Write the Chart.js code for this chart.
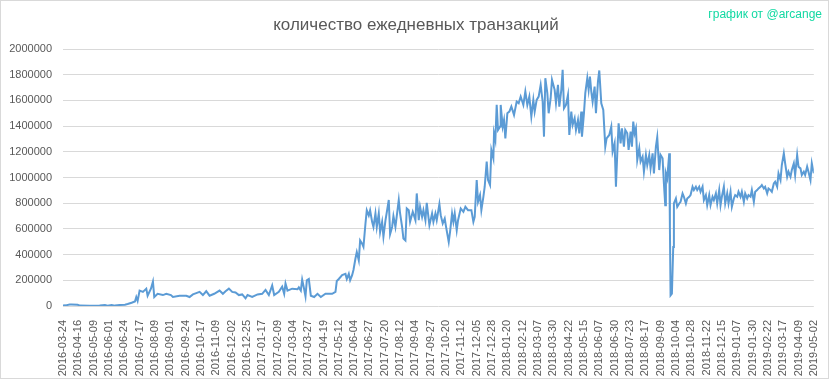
<!DOCTYPE html>
<html>
<head>
<meta charset="utf-8">
<script src="https://cdn.jsdelivr.net/npm/chart.js@4"></script>
<style>
  body { margin: 0; background: #fff; }
  #frame { position: absolute; left: 0; top: 0; width: 829px; height: 379px; border: 1px solid #d9d9d9; box-sizing: border-box; }
  #tx-chart { position: absolute; left: 0; top: 0; }
</style>
</head>
<body>
<div id="frame"></div>
<canvas id="tx-chart" width="833" height="379"></canvas>
<script>
// x-axis labels, one every 23 rows of the source table
const tickLabels = ['2016-03-24', '2016-04-16', '2016-05-09', '2016-06-01', '2016-06-24', '2016-07-17',
    '2016-08-09', '2016-09-01', '2016-09-24', '2016-10-17', '2016-11-09', '2016-12-02', '2016-12-25',
    '2017-01-17', '2017-02-09', '2017-03-04', '2017-03-27', '2017-04-19', '2017-05-12', '2017-06-04',
    '2017-06-27', '2017-07-20', '2017-08-12', '2017-09-04', '2017-09-27', '2017-10-20', '2017-11-12',
    '2017-12-05', '2017-12-28', '2018-01-20', '2018-02-12', '2018-03-07', '2018-03-30', '2018-04-22',
    '2018-05-15', '2018-06-07', '2018-06-30', '2018-07-23', '2018-08-17', '2018-09-09', '2018-10-04',
    '2018-10-28', '2018-11-22', '2018-12-15', '2019-01-07', '2019-01-30', '2019-02-22', '2019-03-17',
    '2019-04-09', '2019-05-02'
];
const TICK_STEP = 23;

// row number (day) of each sampled point
const dayIndex = [
    0, 4, 10, 13, 22, 25, 40, 55, 63, 67, 73, 78, 85, 93, 97, 103, 108, 110, 112, 115,
    120, 125, 127, 132, 135, 137, 142, 150, 155, 162, 165, 175, 185, 190, 195, 200, 205, 210, 215, 220,
    227, 235, 240, 244, 249, 254, 259, 264, 269, 274, 277, 284, 292, 299, 304, 309, 314, 317, 324, 329,
    332, 334, 337, 344, 352, 354, 357, 359, 362, 364, 366, 369, 372, 377, 382, 387, 394, 404, 409, 411,
    414, 419, 424, 426, 429, 431, 434, 436, 439, 441, 444, 446, 449, 451, 454, 456, 459, 461, 464, 466,
    469, 471, 474, 476, 479, 481, 484, 489, 491, 494, 496, 499, 504, 506, 509, 511, 514, 516,
    519, 521, 525, 529, 531, 534, 536, 539, 541, 544, 546, 550, 554, 556, 559, 561, 565, 567, 570, 573,
    575, 579, 581, 584, 586, 588, 591, 593, 597, 601, 604, 608, 613, 616, 618, 621, 623, 626, 628, 631,
    633, 636, 638, 641, 643, 646, 647, 649, 651, 653, 656, 657, 660, 662, 664, 667, 670, 673, 677, 681,
    684, 687, 691, 694, 697, 700, 703, 706, 708, 711, 714, 717, 720, 722, 724, 727, 729, 732, 734, 738,
    740, 743, 745, 748, 750, 752, 755, 758, 760, 763, 765, 768, 770, 773, 775, 778, 779, 782, 784, 787,
    789, 791, 793, 795, 798, 800, 803, 805, 808, 811, 814, 816, 820, 823, 825, 828, 830, 832, 834, 837,
    839, 842, 844, 847, 849, 852, 854, 856, 858, 860, 862, 865, 867, 870, 872, 875, 877, 880, 882, 885,
    887, 890, 892, 895, 897, 900, 902, 904, 905, 907, 910, 911, 912, 914, 916, 917, 920, 922, 925, 927,
    930, 932, 935, 937, 940, 942, 945, 947, 950, 952, 955, 957, 960, 962, 965, 967, 970, 972, 975, 977,
    980, 982, 985, 987, 989, 992, 994, 997, 999, 1002, 1004, 1007, 1009, 1012, 1014, 1017, 1019, 1022, 1024, 1027,
    1029, 1032, 1034, 1037, 1039, 1042, 1044, 1047, 1049, 1052, 1054, 1057, 1059, 1062, 1064, 1067, 1069, 1072, 1074, 1077,
    1079, 1082, 1084, 1087, 1089, 1092, 1094, 1097, 1099, 1102, 1104, 1107, 1109, 1112, 1114, 1117, 1119, 1122, 1124, 1127
];

// daily transactions
const transactions = [
    3000, 5000, 12000, 12000, 10000, 3000, 2000, 3000, 8000, 3000, 8000, 3000, 8000, 10000, 15000, 25000, 35000, 70000, 40000, 120000,
    110000, 135000, 80000, 135000, 190000, 70000, 95000, 85000, 95000, 85000, 70000, 80000, 80000, 70000, 90000, 100000, 110000, 85000, 115000, 80000,
    95000, 120000, 95000, 115000, 135000, 110000, 105000, 85000, 90000, 60000, 85000, 70000, 90000, 95000, 125000, 85000, 160000, 85000, 110000, 150000,
    95000, 175000, 120000, 135000, 130000, 145000, 120000, 205000, 130000, 75000, 200000, 210000, 80000, 70000, 95000, 70000, 95000, 95000, 110000, 195000,
    210000, 240000, 250000, 210000, 250000, 200000, 240000, 280000, 370000, 420000, 355000, 510000, 485000, 460000, 640000, 745000, 705000, 745000, 655000, 615000,
    720000, 615000, 720000, 575000, 655000, 540000, 665000, 825000, 560000, 615000, 700000, 615000, 825000, 720000, 615000, 525000, 510000, 760000,
    746000, 655000, 733000, 668000, 876000, 668000, 772000, 694000, 746000, 668000, 803000, 629000, 720000, 655000, 720000, 668000, 793000, 707000, 642000, 681000,
    616000, 499000, 577000, 720000, 655000, 720000, 590000, 668000, 759000, 733000, 772000, 746000, 746000, 655000, 694000, 980000, 811000, 863000, 746000, 850000,
    928000, 1123000, 980000, 941000, 1214000, 1149000, 1344000, 1292000, 1565000, 1370000, 1396000, 1565000, 1396000, 1448000, 1305000, 1500000, 1513000, 1552000, 1487000, 1591000,
    1578000, 1630000, 1565000, 1669000, 1565000, 1630000, 1474000, 1604000, 1513000, 1604000, 1630000, 1721000, 1591000, 1318000, 1773000, 1656000, 1500000, 1617000, 1760000, 1682000,
    1578000, 1721000, 1552000, 1682000, 1838000, 1539000, 1565000, 1643000, 1331000, 1513000, 1409000, 1461000, 1370000, 1448000, 1344000, 1513000, 1318000, 1500000, 1656000, 1773000,
    1682000, 1786000, 1669000, 1591000, 1708000, 1500000, 1747000, 1833000, 1578000, 1526000, 1240000, 1305000, 1331000, 1396000, 1201000, 1266000, 928000, 1188000, 1422000, 1266000,
    1383000, 1240000, 1370000, 1344000, 1214000, 1357000, 1240000, 1435000, 1344000, 1383000, 1136000, 1227000, 1123000, 1162000, 1045000, 1175000, 1097000, 1175000, 1071000, 1188000,
    1032000, 1240000, 1313000, 1058000, 1175000, 1149000, 954000, 785000, 1032000, 993000, 1188000, 616000, 83000, 96000, 460000, 798000, 837000, 772000, 798000, 811000,
    876000, 850000, 798000, 837000, 850000, 863000, 928000, 902000, 928000, 902000, 928000, 889000, 928000, 824000, 863000, 785000, 863000, 785000, 850000, 824000,
    876000, 798000, 902000, 785000, 850000, 928000, 798000, 876000, 798000, 889000, 772000, 837000, 863000, 850000, 889000, 850000, 889000, 811000, 876000, 837000,
    863000, 850000, 902000, 811000, 889000, 902000, 915000, 928000, 941000, 915000, 928000, 876000, 915000, 902000, 889000, 954000, 967000, 928000, 1032000, 980000,
    1097000, 1188000, 1110000, 1006000, 1045000, 1006000, 1058000, 1110000, 1019000, 1175000, 1084000, 1071000, 1019000, 1045000, 1019000, 1084000, 1045000, 980000, 1110000, 1032000
];

const chartTitle = 'количество ежедневных транзакций';
const credit = 'график от @arcange';

const textPlugin = {
    id: 'texts',
    afterDraw(chart) {
        const ctx = chart.ctx;
        ctx.save();
        ctx.textBaseline = 'middle';
        ctx.textAlign = 'center';
        ctx.fillStyle = '#595959';
        ctx.font = '17px "Liberation Sans"';
        ctx.fillText(chartTitle, 416, 25);
        ctx.textAlign = 'right';
        ctx.fillStyle = '#12d9a3';
        ctx.font = '12px "Liberation Sans"';
        ctx.fillText(credit, 822, 15);
        ctx.restore();
    }
};

new Chart(document.getElementById('tx-chart'), {
    type: 'line',
    data: {
        datasets: [{
            data: dayIndex.map((d, i) => ({x: d, y: transactions[i]})),
            borderColor: '#5b9bd5',
            borderWidth: 2,
            pointRadius: 0,
            tension: 0,
            fill: false
        }]
    },
    options: {
        responsive: false,
        animation: false,
        layout: {padding: {left: 0, top: 49, right: 16, bottom: 0}},
        plugins: {legend: {display: false}, tooltip: {enabled: false}},
        scales: {
            x: {
                type: 'linear',
                min: 0,
                max: (tickLabels.length - 1) * TICK_STEP,
                afterBuildTicks: s => { s.ticks = tickLabels.map((_, i) => ({value: i * TICK_STEP})); },
                afterFit: s => { s.height = 73; },
                grid: {display: false},
                border: {display: false},
                ticks: {
                    autoSkip: false,
                    minRotation: 90,
                    maxRotation: 90,
                    padding: 6,
                    color: '#595959',
                    font: {family: 'Liberation Sans', size: 11},
                    callback: v => tickLabels[Math.round(v / TICK_STEP)]
                }
            },
            y: {
                min: 0,
                max: 2000000,
                afterFit: s => { s.width = 63; },
                grid: {color: '#d9d9d9', drawTicks: false},
                border: {display: false},
                ticks: {
                    stepSize: 200000,
                    padding: 11,
                    color: '#595959',
                    font: {family: 'Liberation Sans', size: 11},
                    callback: v => String(v)
                }
            }
        }
    },
    plugins: [textPlugin]
});
</script>
</body>
</html>
